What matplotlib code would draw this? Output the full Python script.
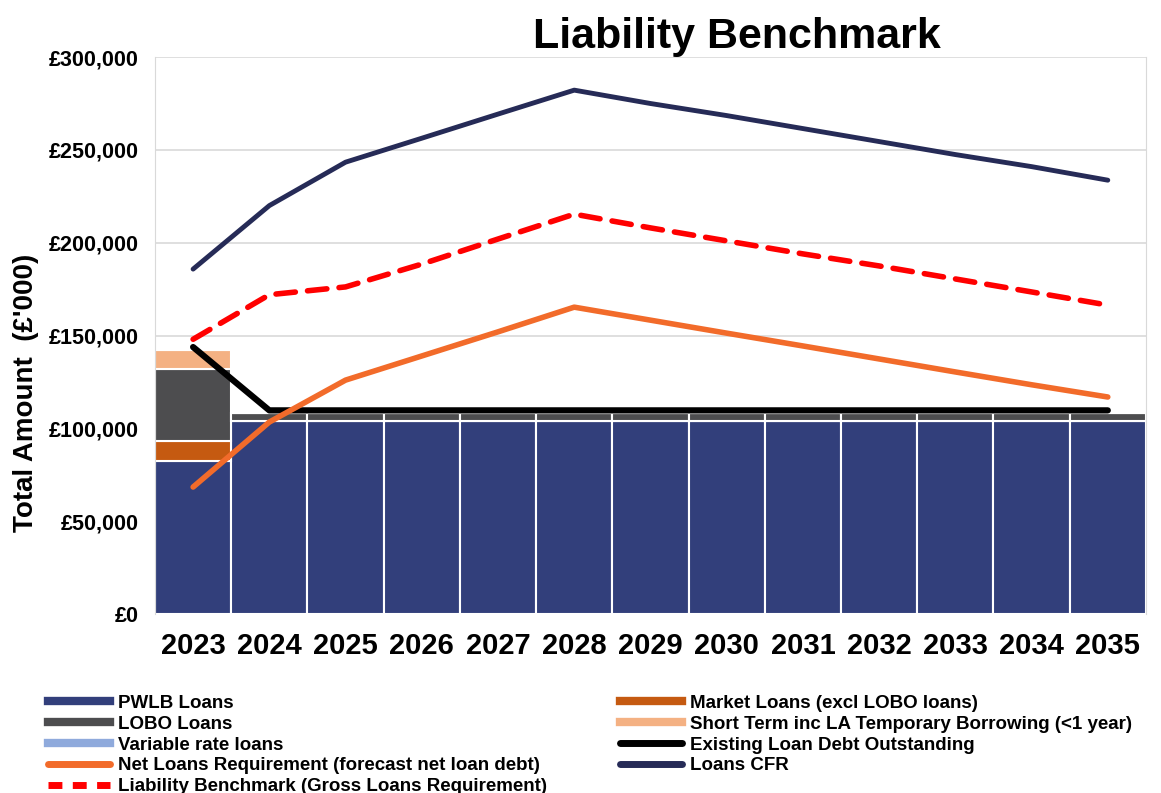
import matplotlib.pyplot as plt
from matplotlib.lines import Line2D
from matplotlib.ticker import FuncFormatter

plt.rcParams['font.family'] = ['Liberation Sans', 'DejaVu Sans']
plt.rcParams['font.weight'] = 'bold'

years = ['2023', '2024', '2025', '2026', '2027', '2028', '2029',
         '2030', '2031', '2032', '2033', '2034', '2035']

# stacked bars (£'000)
pwlb = [82500] + [104000] * 12
market = [10800] + [0] * 12
lobo = [38600] + [4400] * 12
short_term = [10300] + [0] * 12
variable = [0] * 13

# lines (£'000)
existing = [143800] + [109700] * 12
net_loans = [68400, 103400, 126000, 139000, 152000, 165300, 158300,
             151300, 144400, 137400, 130400, 123500, 116900]
liab_bench = [148000, 172000, 176200, 188500, 202000, 215400, 208000,
              201000, 194000, 187500, 180500, 173500, 166400]
loans_cfr = [185800, 220000, 243400, 256300, 269300, 282200, 275000,
             268500, 261500, 254500, 247500, 241000, 233700]

c_pwlb = '#323f7b'
c_market = '#c55a11'
c_lobo = '#4d4d4f'
c_short = '#f4b183'
c_var = '#8faadc'
c_net = '#f26b2a'
c_lb = '#ff0000'
c_cfr = '#262b57'

fig = plt.figure(figsize=(11.61, 7.93), dpi=100)
ax = fig.add_axes([0.1335, 0.2257, 0.8535, 0.7023])

x = list(range(len(years)))
bottom = [0] * 13
for vals, col in [(pwlb, c_pwlb), (market, c_market), (lobo, c_lobo),
                  (short_term, c_short), (variable, c_var)]:
    ax.bar(x, vals, width=1.0, bottom=bottom, color=col,
           edgecolor='white', linewidth=1.5, zorder=2)
    bottom = [b + v for b, v in zip(bottom, vals)]

ax.plot(x, existing, color='black', lw=4.5, solid_capstyle='round', zorder=4)
ax.plot(x, net_loans, color=c_net, lw=4, solid_capstyle='round', zorder=5)
ax.plot(x, liab_bench, color=c_lb, lw=4, ls=(0, (3.5, 2.2)),
        dash_capstyle='round', zorder=5)
ax.plot(x, loans_cfr, color=c_cfr, lw=3.5, solid_capstyle='round', zorder=5)

ax.set_xlim(-0.5, 12.5)
ax.set_ylim(0, 300000)
ax.set_yticks(range(0, 300001, 50000))
ax.yaxis.set_major_formatter(FuncFormatter(lambda v, p: '£{:,.0f}'.format(v)))
ax.set_xticks(x)
ax.set_xticklabels(years)
ax.tick_params(axis='x', labelsize=21, length=0, pad=13)
ax.tick_params(axis='y', labelsize=15.5, length=0, pad=12)
ax.grid(axis='y', color='#d9d9d9', lw=1.2, zorder=0)
for s in ['top', 'bottom']:
    ax.spines[s].set_visible(False)
for s in ['left', 'right']:
    ax.spines[s].set_color('#d9d9d9')

fig.text(0.635, 0.953, 'Liability Benchmark', ha='center', va='center',
         fontsize=31, fontweight='bold')
fig.text(0.022, 0.505, "Total Amount  (£'000)", rotation=90, ha='center',
         va='center', fontsize=20, fontweight='bold')

left_h = [Line2D([], [], color=c_pwlb, lw=6),
          Line2D([], [], color=c_lobo, lw=6),
          Line2D([], [], color=c_var, lw=6),
          Line2D([], [], color=c_net, lw=5, solid_capstyle='round'),
          Line2D([], [], color=c_lb, lw=5, ls=(0, (2, 1.5)))]
left_l = ['PWLB Loans', 'LOBO Loans', 'Variable rate loans',
          'Net Loans Requirement (forecast net loan debt)',
          'Liability Benchmark (Gross Loans Requirement)']
right_h = [Line2D([], [], color=c_market, lw=6),
           Line2D([], [], color=c_short, lw=6),
           Line2D([], [], color='black', lw=5, solid_capstyle='round'),
           Line2D([], [], color=c_cfr, lw=5, solid_capstyle='round')]
right_l = ['Market Loans (excl LOBO loans)',
           'Short Term inc LA Temporary Borrowing (<1 year)',
           'Existing Loan Debt Outstanding', 'Loans CFR']

leg_kw = dict(frameon=False, fontsize=13.5, handlelength=3.3,
              handletextpad=0.45, labelspacing=0.2, borderaxespad=0,
              borderpad=0)
fig.legend(left_h, left_l, loc='upper left',
           bbox_to_anchor=(0.0413, 0.124), **leg_kw)
fig.legend(right_h, right_l, loc='upper left',
           bbox_to_anchor=(0.534, 0.124), **leg_kw)

fig.savefig('out.png', dpi=100)
